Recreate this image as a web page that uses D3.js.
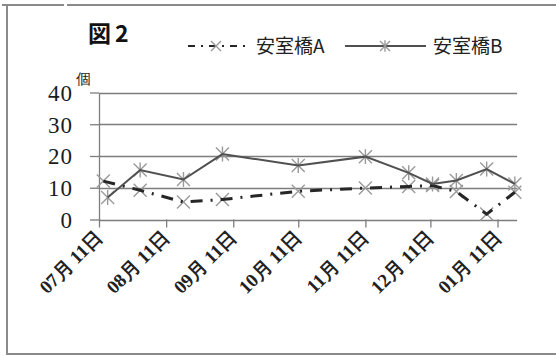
<!DOCTYPE html>
<html>
<head>
<meta charset="utf-8">
<script src="https://cdn.jsdelivr.net/npm/d3@7"></script>
<style>
  html, body { margin: 0; padding: 0; background: #fff; }
  svg { display: block; }
  .serif-text { font-family: "Liberation Serif", "Times New Roman", "DejaVu Serif", serif; }
</style>
</head>
<body>
<svg id="chart" width="556" height="356"></svg>
<script>
// Monthly counts at two sites (安室橋A / 安室橋B)
const datesA  = ["2012-07-13","2012-07-30","2012-08-19","2012-09-06","2012-10-11","2012-11-11","2012-12-01","2012-12-12","2012-12-23","2013-01-06","2013-01-19"];
const valuesA = [12.1, 9.2, 5.5, 6.3, 8.9, 9.9, 10.4, 10.7, 8.8, 1.7, 8.6];
const datesB  = ["2012-07-15","2012-07-30","2012-08-19","2012-09-06","2012-10-11","2012-11-11","2012-12-01","2012-12-12","2012-12-23","2013-01-06","2013-01-19"];
const valuesB = [6.9, 15.6, 12.6, 20.6, 17.0, 19.8, 14.7, 11.2, 12.3, 15.9, 11.2];
const seriesNames = ["安室橋A", "安室橋B"];
const xTickDates = ["2012-07-11","2012-08-11","2012-09-11","2012-10-11","2012-11-11","2012-12-11","2013-01-11"];
const yTickValues = [0, 10, 20, 30, 40];
const xDomain = ["2012-07-11", "2013-01-20"];

const parse = d3.timeParse("%Y-%m-%d");
const svg = d3.select("#chart");

const plotL = 99, plotR = 517, plotT = 92.5, plotB = 219.5;
const x = d3.scaleTime().domain(xDomain.map(parse)).range([plotL, plotR]);
const y = d3.scaleLinear().domain([0, 40]).range([plotB, plotT]);

const serif = "Liberation Serif, Times New Roman, DejaVu Serif, serif";
const gothic = "Noto Sans CJK JP, sans-serif";

// outer frame
const frame = svg.append("g").attr("stroke", "#8a8a8a").attr("stroke-width", 2).attr("fill", "none");
frame.append("path").attr("d", "M7,14 V354 H556");
frame.append("path").attr("d", "M2,5 H64 M67,5 H556");
frame.append("path").attr("d", "M7,5 V14");

// horizontal gridlines
svg.append("g").selectAll("line").data(yTickValues).join("line")
  .attr("x1", plotL).attr("x2", plotR)
  .attr("y1", d => Math.round(y(d)) + 0.5).attr("y2", d => Math.round(y(d)) + 0.5)
  .attr("stroke", "#7d7d7d").attr("stroke-width", 1.3);

// y axis
const yAxis = svg.append("g").attr("transform", `translate(${plotL},0)`)
  .call(d3.axisLeft(y).tickValues(yTickValues).tickSize(9).tickSizeOuter(0).tickPadding(17).tickFormat(d3.format("d")))
  .attr("font-family", serif).attr("font-size", 23);
yAxis.select(".domain").attr("stroke", "#7d7d7d").attr("stroke-width", 1.3);
yAxis.selectAll(".tick line").attr("stroke", "#7d7d7d").attr("stroke-width", 1.3);
yAxis.selectAll(".tick text").attr("class", "serif-text")
  .attr("fill", "#1a1a1a").attr("letter-spacing", 1).attr("dy", "0.34em");

// x axis (date ticks)
const xAxis = svg.append("g").attr("transform", `translate(0,${plotB})`)
  .call(d3.axisBottom(x).tickValues(xTickDates.map(parse)).tickSize(8).tickSizeOuter(0)
    .tickFormat(d3.timeFormat("%m月 %d日")))
  .attr("font-family", serif).attr("font-size", 19);
xAxis.select(".domain").remove();
xAxis.selectAll(".tick text").attr("class", "serif-text")
  .attr("font-weight", "bold").attr("fill", "#222")
  .attr("text-anchor", "end").attr("y", 0).attr("dy", 0)
  .attr("transform", "translate(4,19) rotate(-45)");
xAxis.selectAll(".tick line").attr("stroke", "#7d7d7d").attr("stroke-width", 1.3);

// unit label
svg.append("text").attr("class", "serif-text").attr("x", 76).attr("y", 84)
  .attr("font-size", 15).attr("fill", "#222")
  .text("個");

// markers
function cross(g, cx, cy, r, star) {
  let d = `M${cx - r},${cy - r}L${cx + r},${cy + r}M${cx - r},${cy + r}L${cx + r},${cy - r}`;
  if (star) d += `M${cx},${cy - r * 1.15}V${cy + r * 1.15}`;
  g.append("path").attr("d", d).attr("stroke", "#9a9a9a").attr("stroke-width", 1.4).attr("fill", "none");
}

const dataA = datesA.map((d, i) => ({ date: parse(d), value: valuesA[i] }));
const dataB = datesB.map((d, i) => ({ date: parse(d), value: valuesB[i] }));
const line = d3.line().x(d => x(d.date)).y(d => y(d.value));

const mA = svg.append("g"), mB = svg.append("g");
dataA.forEach(d => cross(mA, x(d.date), y(d.value), 6.5, false));
dataB.forEach(d => cross(mB, x(d.date), y(d.value), 6.5, true));

svg.append("path").datum(dataA).attr("d", line)
  .attr("fill", "none").attr("stroke", "#262626").attr("stroke-width", 3)
  .attr("stroke-dasharray", "12,8,2,8");
svg.append("path").datum(dataB).attr("d", line)
  .attr("fill", "none").attr("stroke", "#505050").attr("stroke-width", 2);

// title
svg.append("text").attr("x", 88).attr("y", 42)
  .attr("font-family", gothic).attr("font-size", 23).attr("font-weight", "bold")
  .attr("letter-spacing", 4).attr("fill", "#111")
  .text("図2");

// legend
const legY = 46;
const lg = svg.append("g");
lg.append("line").attr("x1", 188).attr("x2", 246).attr("y1", legY).attr("y2", legY)
  .attr("stroke", "#262626").attr("stroke-width", 2).attr("stroke-dasharray", "7,6,2,6");
cross(lg, 216, legY, 5, false);
lg.append("text").attr("x", 256).attr("y", legY + 7).text(seriesNames[0]);
lg.append("line").attr("x1", 345).attr("x2", 426).attr("y1", legY).attr("y2", legY)
  .attr("stroke", "#505050").attr("stroke-width", 2);
cross(lg, 385, legY, 5, true);
lg.append("text").attr("x", 433).attr("y", legY + 7).text(seriesNames[1]);
lg.selectAll("text").attr("font-family", gothic).attr("font-size", 19).attr("fill", "#222");
</script>
</body>
</html>
